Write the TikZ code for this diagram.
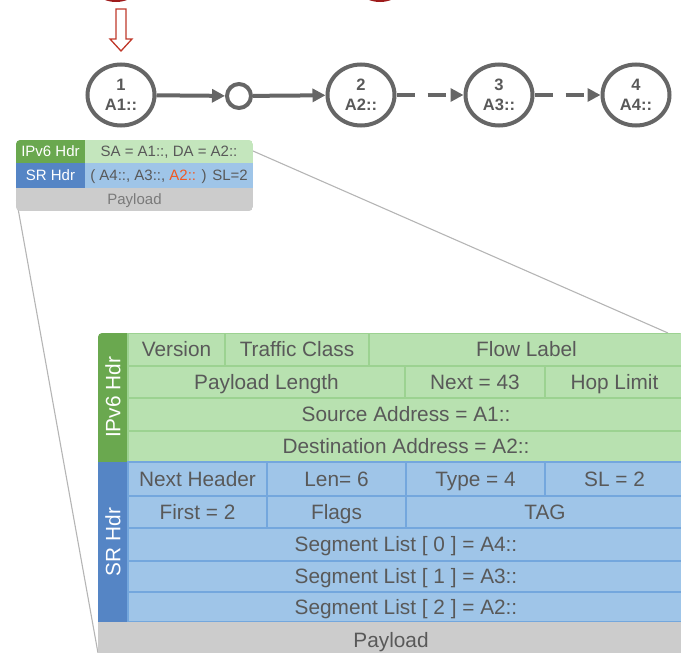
\documentclass[tikz,border=0pt]{standalone}
\usepackage{fontspec}
\setmainfont{Liberation Sans}
\usetikzlibrary{arrows.meta,shapes.geometric}

\definecolor{hdrgreen}{HTML}{6AA84F}
\definecolor{fieldgreen}{HTML}{B8E1B0}
\definecolor{minigreen}{HTML}{C4E6BD}
\definecolor{edgegreen}{HTML}{9CD291}
\definecolor{hdrblue}{HTML}{5585C5}
\definecolor{fieldblue}{HTML}{9FC5E8}
\definecolor{edgeblue}{HTML}{74A7DD}
\definecolor{payloadgray}{HTML}{CCCCCC}
\definecolor{textgray}{HTML}{595959}
\definecolor{softgray}{HTML}{7A7A7A}
\definecolor{hopgray}{HTML}{666666}
\definecolor{markred}{HTML}{C0392B}
\definecolor{deepred}{HTML}{9E1B1B}
\definecolor{sidred}{HTML}{F15A24}
\definecolor{zoomgray}{HTML}{B5B5B5}

% a rectangular field: name, x1, y1, x2, y2, style, text
\newcommand\fieldcell[7]{%
  \node[#6, minimum width={(#4-#2)*1pt}, minimum height={(#5-#3)*1pt}]
    (#1) at ({(#2+#4)/2},{(#3+#5)/2}) {#7};}

\tikzset{
  hop/.style={ellipse, draw=hopgray, line width=4pt, minimum width=67pt,
    minimum height=61pt, inner sep=0pt, fill=white, align=center,
    text=textgray, font=\bfseries\fontsize{16.5}{20}\selectfont},
  relay/.style={circle, draw=hopgray, line width=4pt, minimum size=24pt,
    inner sep=0pt, fill=white},
  link/.style={draw=hopgray, line width=4pt,
    -{Triangle[length=13pt,width=13pt]}},
  dashlink/.style={link, dash pattern=on 18pt off 13pt},
  cellbase/.style={inner sep=0pt, text=textgray, text height=14.8pt,
    text depth=0pt, font=\fontsize{20.8}{23}\selectfont},
  gfield/.style={cellbase, draw=edgegreen, fill=fieldgreen, line width=1.2pt},
  bfield/.style={cellbase, draw=edgeblue, fill=fieldblue, line width=1.2pt},
  sidelbl/.style={cellbase, text=white, rotate=90},
  minibase/.style={inner sep=0pt, text=textgray, text height=10.7pt,
    text depth=0pt, font=\fontsize{15}{17}\selectfont},
  minilbl/.style={minibase, text=white},
  zoomline/.style={draw=zoomgray, line width=1.1pt},
}

\begin{document}
\begin{tikzpicture}[x=1pt, y=-1pt]
\useasboundingbox (0,0) rectangle (681,653);
\clip (0,0) rectangle (681,653);

% step markers cut by the top edge
\fill[deepred] (116,-29) circle (31);
\fill[deepred] (380,-29) circle (31);

% hollow arrow into the ingress node
\draw[markred, line width=1.3pt, fill=white, line join=miter]
  (116,9) -- (126,9) -- (126,39) -- (132,39) -- (121,51) -- (110,39)
  -- (116,39) -- cycle;

% path of the packet
\node[hop] (n1) at (121,95) {1\\A1::};
\node[relay] (r) at (239,96) {};
\node[hop] (n2) at (361,95) {2\\A2::};
\node[hop] (n3) at (499,95) {3\\A3::};
\node[hop] (n4) at (636,95) {4\\A4::};
\draw[link] (n1) -- (r);
\draw[link] (r) -- (n2);
\draw[dashlink] (n2) -- (n3);
\draw[dashlink] (n3) -- (n4);

% magnifying lines from the compact packet to the detailed view
\coordinate (miniR) at (253,151);
\coordinate (miniL) at (16.5,200);
\coordinate (bigTop) at (668,333);
\coordinate (bigBot) at (98,653);
\draw[zoomline] (miniR) -- (bigTop);
\draw[zoomline] (miniL) -- (bigBot);

% compact packet
\begin{scope}
\clip[rounded corners=4pt] (16,140) rectangle (253,211);
\fieldcell{miniIpLbl}{16}{140}{85}{163}{minilbl, fill=hdrgreen}{IPv6 Hdr}
\fieldcell{miniIp}{85}{140}{253}{163}{minibase, fill=minigreen}{SA = A1::, DA = A2::}
\fieldcell{miniSrLbl}{16}{163}{85}{188}{minilbl, fill=hdrblue}{SR Hdr}
\fieldcell{miniSr}{85}{163}{253}{188}{minibase, fill=fieldblue}{( A4::, A3::, \textcolor{sidred}{A2::} ) SL=2}
\fieldcell{miniPay}{16}{188}{253}{211}{minibase, fill=payloadgray, text=softgray}{Payload}
\end{scope}

% detailed packet
\begin{scope}
\clip[rounded corners=4pt] (98,333) rectangle (684,700);
% IPv6 header
\node[sidelbl, fill=hdrgreen, minimum width=129pt, minimum height=30pt]
  (ipv6lbl) at (113,397.5) {IPv6 Hdr};
\fieldcell{ver}{128}{333}{225}{366}{gfield}{Version}
\fieldcell{tc}{225}{333}{369}{366}{gfield}{Traffic Class}
\fieldcell{fl}{369}{333}{684}{366}{gfield}{Flow Label}
\fieldcell{plen}{128}{366}{405}{398}{gfield}{Payload Length}
\fieldcell{nxt}{405}{366}{545}{398}{gfield}{Next = 43}
\fieldcell{hop}{545}{366}{684}{398}{gfield}{Hop Limit}
\fieldcell{src}{128}{398}{684}{431}{gfield}{Source Address = A1::}
\fieldcell{dst}{128}{431}{684}{462}{gfield}{Destination Address = A2::}
% segment routing header
\node[sidelbl, fill=hdrblue, minimum width=160pt, minimum height=30pt]
  (srlbl) at (113,542) {SR Hdr};
\fieldcell{nh}{128}{462}{267}{496}{bfield}{Next Header}
\fieldcell{len}{267}{462}{406}{496}{bfield}{Len= 6}
\fieldcell{typ}{406}{462}{545}{496}{bfield}{Type = 4}
\fieldcell{sl}{545}{462}{684}{496}{bfield}{SL = 2}
\fieldcell{first}{128}{496}{267}{528}{bfield}{First = 2}
\fieldcell{flags}{267}{496}{406}{528}{bfield}{Flags}
\fieldcell{tag}{406}{496}{684}{528}{bfield}{TAG}
\fieldcell{seg0}{128}{528}{684}{561}{bfield}{Segment List [ 0 ] = A4::}
\fieldcell{seg1}{128}{561}{684}{592}{bfield}{Segment List [ 1 ] = A3::}
\fieldcell{seg2}{128}{592}{684}{622}{bfield}{Segment List [ 2 ] = A2::}
% payload
\fieldcell{pay}{98}{622}{684}{658}{cellbase, fill=payloadgray}{Payload}
\end{scope}
\end{tikzpicture}
\end{document}
